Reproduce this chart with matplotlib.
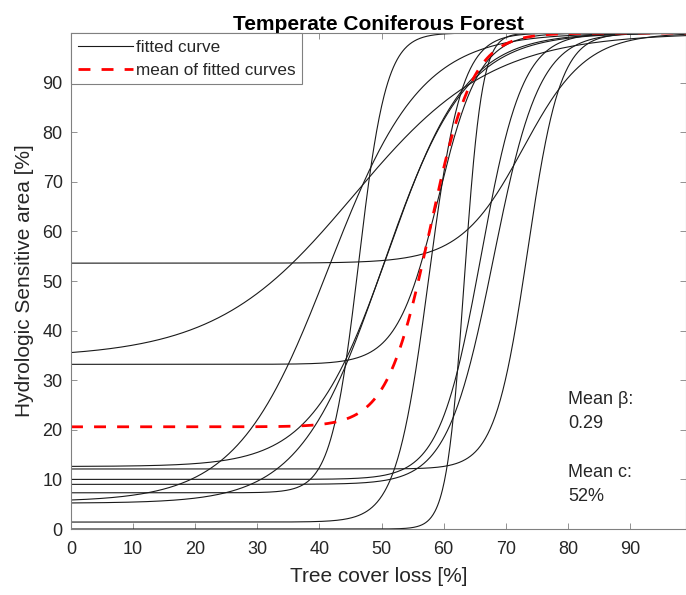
import matplotlib.pyplot as plt
import numpy as np

plt.rcParams["font.family"] = ["Liberation Sans", "DejaVu Sans"]

# fitted logistic curves: y = base + (100 - base) / (1 + exp(-beta * (x - mid)))
base = [53.6, 34.5, 33.2, 12.6, 12.1, 10.0, 9.0, 7.3, 5.5, 5.2, 1.4, 0.0]
beta = [0.197, 0.09, 0.30, 0.16, 0.38, 0.30, 0.27, 0.45, 0.135, 0.15, 0.38, 0.7]
mid = [72.8, 45.5, 59.1, 51.2, 73.5, 66.0, 68.0, 46.3, 41.5, 50.1, 57.6, 63.3]

# mean of the fitted curves
mean_base = 20.6
mean_beta = 0.29
mean_mid = 57.75
mean_c = 52

GRAY = "#262626"
AX_GRAY = "#808080"


def logistic(x, a, b, c):
    return a + (100 - a) / (1 + np.exp(-b * (x - c)))


fig = plt.figure(figsize=(6.86, 5.95), dpi=100)
ax = fig.add_axes([71 / 686, 66 / 595, 615 / 686, 496 / 595])

x = np.linspace(0, 100, 1001)
for i, (a, b, c) in enumerate(zip(base, beta, mid)):
    ax.plot(x, logistic(x, a, b, c), color="#1a1a1a", lw=0.8,
            label="fitted curve" if i == 0 else None)

ax.plot(x, logistic(x, mean_base, mean_beta, mean_mid), color="red", lw=2,
        dashes=(4.3, 4), label="mean of fitted curves")

ax.set_xlim(0, 99)
ax.set_ylim(0, 100)
ax.set_xticks(np.arange(0, 100, 10))
ax.set_yticks(np.arange(0, 100, 10))
ax.tick_params(direction="in", top=True, right=True, labelsize=13,
               colors=GRAY, length=4, width=0.6)
ax.tick_params(axis="both", color=AX_GRAY)
ax.tick_params(axis="x", pad=9)
ax.tick_params(axis="y", pad=6)
for s in ax.spines.values():
    s.set_color(AX_GRAY)
    s.set_linewidth(0.8)

ax.set_xlabel("Tree cover loss [%]", fontsize=15, color=GRAY, labelpad=6)
ax.set_ylabel("Hydrologic Sensitive area [%]", fontsize=15, color=GRAY, labelpad=6)
ax.set_title("Temperate Coniferous Forest", fontsize=15, fontweight="bold", pad=2)

leg = ax.legend(loc="upper left", fontsize=12.3, handlelength=3.2,
                borderaxespad=0, fancybox=False, framealpha=1,
                borderpad=0.4, labelspacing=0.45, handletextpad=0.2)
leg.get_frame().set_edgecolor(AX_GRAY)
leg.get_frame().set_linewidth(0.8)
for t in leg.get_texts():
    t.set_color(GRAY)

ax.text(80, 27.8, f"Mean β:\n{mean_beta:.2f}", fontsize=13, color=GRAY,
        va="top", linespacing=1.55)
ax.text(80, 13.2, f"Mean c:\n{mean_c}%", fontsize=13, color=GRAY,
        va="top", linespacing=1.55)

fig.savefig("out.png", dpi=100)
